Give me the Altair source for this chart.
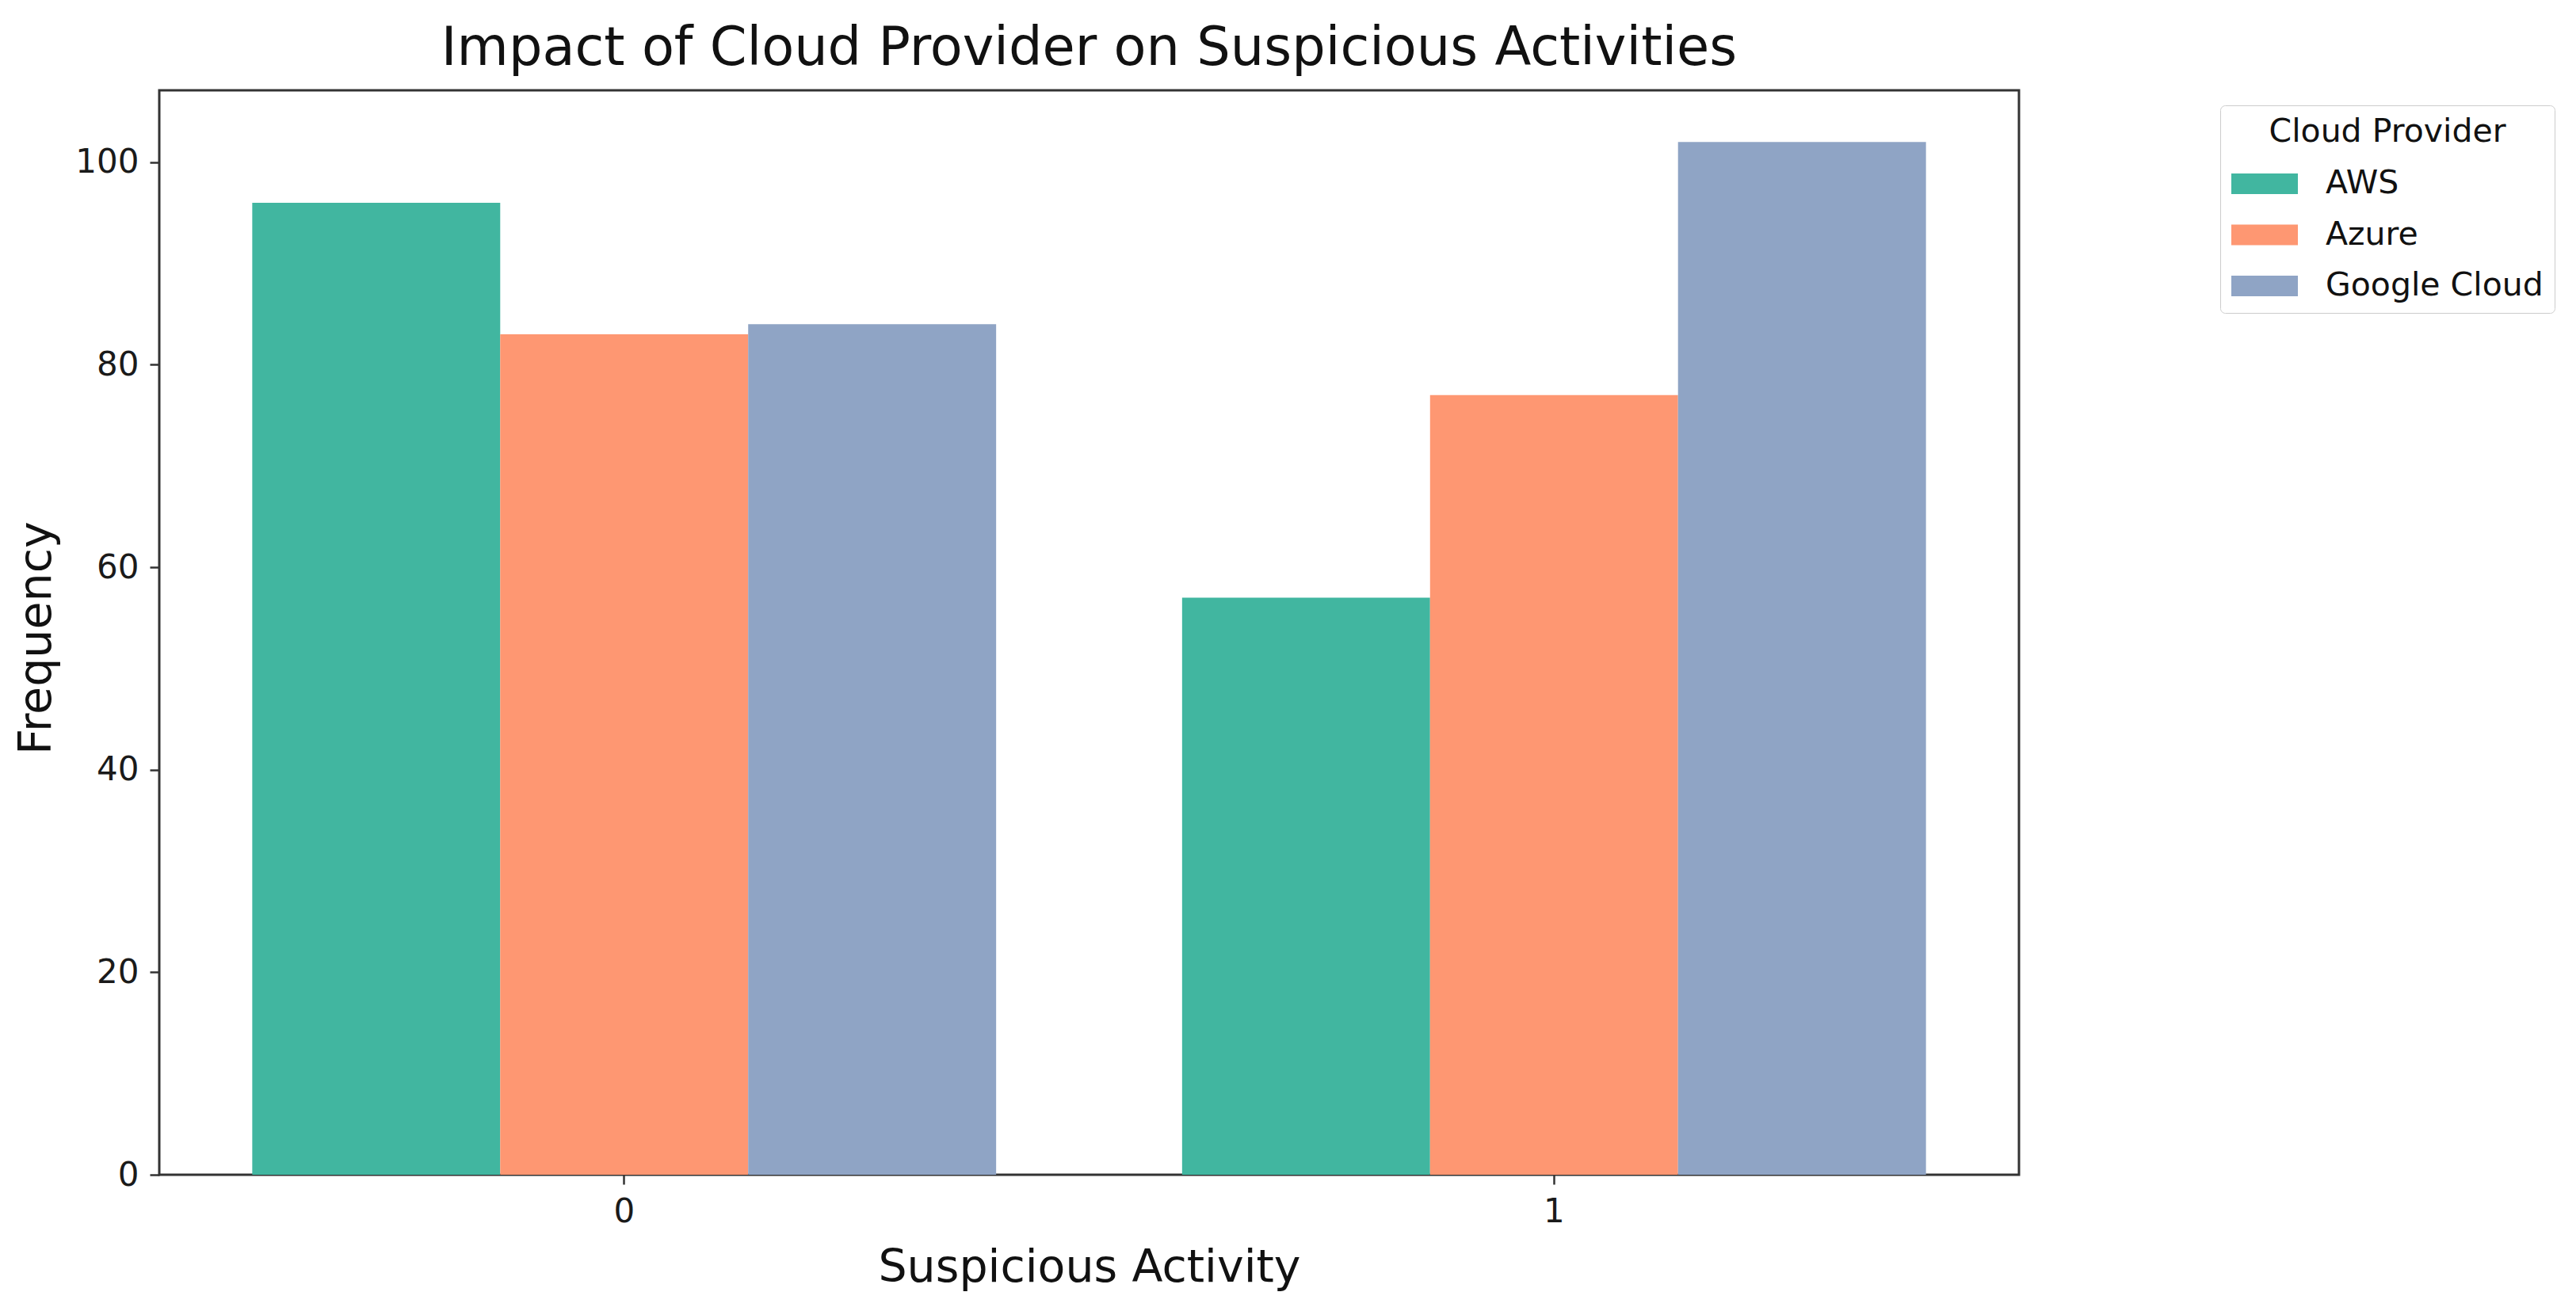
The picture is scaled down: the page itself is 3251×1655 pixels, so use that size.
import altair as alt
import pandas as pd

# ---- data ----
activity_levels = ["0", "1"]
providers = ["AWS", "Azure", "Google Cloud"]
aws_freq = [96, 57]
azure_freq = [83, 77]
google_freq = [84, 102]
y_ticks = [0, 20, 40, 60, 80, 100]
provider_colors = ["#41b6a0", "#fe9772", "#8fa4c5"]

rows = []
for i, act in enumerate(activity_levels):
    for prov, vals in zip(providers, [aws_freq, azure_freq, google_freq]):
        rows.append({"activity": act, "provider": prov, "frequency": vals[i]})
df = pd.DataFrame(rows)

FONT = "DejaVu Sans"

chart = alt.Chart(df).mark_bar().encode(
    x=alt.X(
        "activity:N",
        sort=activity_levels,
        scale=alt.Scale(paddingInner=0.2, paddingOuter=0.1),
        axis=alt.Axis(
            title="Suspicious Activity",
            labelAngle=0,
            labelFontSize=42,
            labelFont=FONT,
            labelColor="#1a1a1a",
            labelPadding=14,
            tickSize=12,
            tickWidth=2.5,
            tickColor="#333333",
            domain=False,
            grid=False,
            titleFontSize=57,
            titleFont=FONT,
            titleFontWeight="normal",
            titleColor="#111111",
            titleBaseline="alphabetic",
            titleY=134,
        ),
    ),
    xOffset=alt.XOffset(
        "provider:N",
        sort=providers,
        scale=alt.Scale(paddingInner=0, paddingOuter=0),
    ),
    y=alt.Y(
        "frequency:Q",
        scale=alt.Scale(domain=[0, 107.1], nice=False, zero=True),
        axis=alt.Axis(
            title="Frequency",
            values=y_ticks,
            labelFontSize=42,
            labelFont=FONT,
            labelColor="#1a1a1a",
            labelPadding=14,
            tickSize=12,
            tickWidth=2.5,
            tickColor="#333333",
            domain=False,
            grid=False,
            titleFontSize=57,
            titleFont=FONT,
            titleFontWeight="normal",
            titleColor="#111111",
            titleAngle=270,
            titleBaseline="alphabetic",
            titleAlign="center",
            titleX=-138,
            titleY=691,
        ),
    ),
    color=alt.Color(
        "provider:N",
        sort=providers,
        scale=alt.Scale(domain=providers, range=provider_colors),
        legend=alt.Legend(
            title="Cloud Provider",
            orient="none",
            legendX=2601,
            legendY=19,
            titleFontSize=41,
            titleFont=FONT,
            titleFontWeight="normal",
            titleColor="#111111",
            titleAnchor="middle",
            titlePadding=2,
            titleLimit=2000,
            labelFontSize=41,
            labelFont=FONT,
            labelColor="#111111",
            labelOffset=35,
            labelLimit=2000,
            symbolType="M-1,-0.31H1V0.31H-1Z",
            symbolSize=7056,
            symbolOffset=0,
            symbolStrokeWidth=0,
            symbolOpacity=1,
            rowPadding=2.5,
            padding=14,
            strokeColor="#cccccc",
            cornerRadius=6,
            fillColor="white",
        ),
    ),
).properties(
    width=2347,
    height=1369,
    title=alt.Title(
        "Impact of Cloud Provider on Suspicious Activities",
        fontSize=67,
        font=FONT,
        fontWeight="normal",
        color="#111111",
        anchor="middle",
        baseline="alphabetic",
        offset=31,
        dy=66,
    ),
    autosize=alt.AutoSizeParams(type="none"),
    padding={"left": 193, "top": 106, "right": 695, "bottom": 160},
).configure(
    font=FONT,
).configure_view(
    stroke="#333333",
    strokeWidth=3,
)

chart.save("out.html", embed_options={"renderer": "svg", "actions": False})
